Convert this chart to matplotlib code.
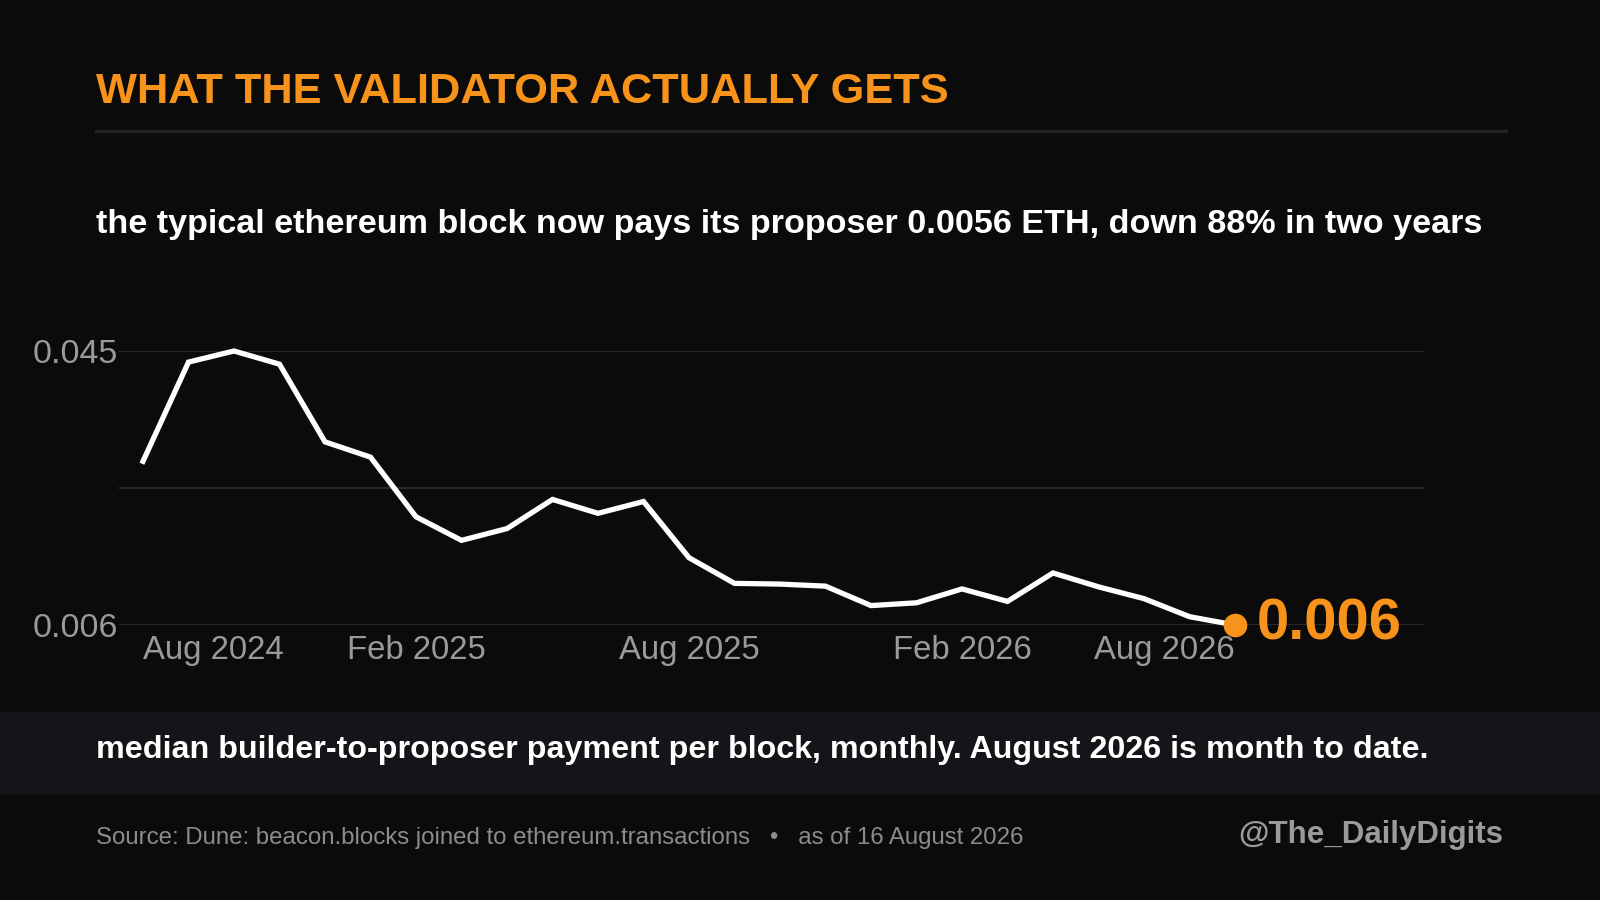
import matplotlib
matplotlib.use("Agg")
import matplotlib.pyplot as plt
from matplotlib.patches import Rectangle
from matplotlib.lines import Line2D

# monthly median builder-to-proposer payment (ETH), Aug 2024 .. Aug 2026
months = ["Aug 2024", "Sep 2024", "Oct 2024", "Nov 2024", "Dec 2024",
          "Jan 2025", "Feb 2025", "Mar 2025", "Apr 2025", "May 2025",
          "Jun 2025", "Jul 2025", "Aug 2025", "Sep 2025", "Oct 2025",
          "Nov 2025", "Dec 2025", "Jan 2026", "Feb 2026", "Mar 2026",
          "Apr 2026", "May 2026", "Jun 2026", "Jul 2026", "Aug 2026"]
payment = [0.0292, 0.0435, 0.0451, 0.0432, 0.0320,
           0.0298, 0.0212, 0.0178, 0.0195, 0.0237,
           0.0217, 0.0234, 0.0153, 0.0116, 0.0115,
           0.0112, 0.0084, 0.0088, 0.0108, 0.0090,
           0.0131, 0.0111, 0.0094, 0.0068, 0.0056]
tick_months = ["Aug 2024", "Feb 2025", "Aug 2025", "Feb 2026", "Aug 2026"]

BG = "#0b0b0b"
BAND = "#151519"
ORANGE = "#f7931a"
GRID = "#2a2a2e"
GREY = "#9a9a9a"

W, H = 1600, 900
plt.rcParams["font.family"] = ["Liberation Sans", "DejaVu Sans"]

fig = plt.figure(figsize=(16, 9), dpi=100, facecolor=BG)


def fy(y):
    # pixel from top -> figure fraction
    return 1 - y / H


# title + rule
fig.text(96 / W, fy(92), "WHAT THE VALIDATOR ACTUALLY GETS", color=ORANGE,
         fontsize=31.2, fontweight="bold", va="center", ha="left")
fig.add_artist(Line2D([96 / W, 1506 / W], [fy(131), fy(131)], color="#222226",
                      lw=2.4, transform=fig.transFigure))

fig.text(96 / W, fy(225), "the typical ethereum block now pays its proposer 0.0056 ETH, down 88% in two years",
         color="white", fontsize=24.6, fontweight="bold", va="center", ha="left")

# chart area
ymin, ymax = min(payment), max(payment)
y_top, y_bot = 351, 625
x_left, x_right = 119, 1424
x0, x_last = 143, 1235
step = (x_last - x0) / (len(months) - 1)

ax = fig.add_axes([x_left / W, fy(y_bot), (x_right - x_left) / W, (y_bot - y_top) / H])
ax.set_facecolor(BG)
ax.set_ylim(ymin, ymax)
ax.set_xlim(-(x0 - x_left) / step, (len(months) - 1) + (x_right - x_last) / step)

xs = list(range(len(months)))
ax.plot(xs, payment, color="white", lw=3.8, solid_joinstyle="miter", clip_on=False, zorder=3)
ax.plot(xs[-1], payment[-1], "o", color=ORANGE, ms=16, clip_on=False, zorder=4)
ax.annotate(f"{payment[-1]:.3f}", (xs[-1], payment[-1]), xytext=(16, 0),
            textcoords="offset points", color=ORANGE, fontsize=41.8, fontweight="bold",
            va="center", ha="left", annotation_clip=False)

for v in [ymin, (ymin + ymax) / 2, ymax]:
    ax.axhline(v, color=GRID, lw=1.5, zorder=1)

ax.set_yticks([ymin, ymax])
ax.set_yticklabels([f"{ymin:.3f}", f"{ymax:.3f}"])
ax.tick_params(axis="y", length=0, pad=1, labelsize=24.5, labelcolor=GREY)

tick_idx = [months.index(m) for m in tick_months]
ax.set_xticks(tick_idx)
ax.set_xticklabels(tick_months)
ax.tick_params(axis="x", length=0, pad=7.5, labelsize=23.7, labelcolor=GREY)
lbls = ax.get_xticklabels()
lbls[0].set_ha("left")
lbls[-1].set_ha("right")

for s in ax.spines.values():
    s.set_visible(False)

# caption band
fig.add_artist(Rectangle((0, fy(793)), 1, (793 - 712) / H, color=BAND,
                         transform=fig.transFigure, zorder=0))
fig.text(96 / W, fy(750), "median builder-to-proposer payment per block, monthly. August 2026 is month to date.",
         color="white", fontsize=23.2, fontweight="bold", va="center", ha="left")

# footer
fig.text(96 / W, fy(838),
         "Source: Dune: beacon.blocks joined to ethereum.transactions   \u2022   as of 16 August 2026",
         color="#8c8c8c", fontsize=17.3, va="center", ha="left")
fig.text(1503 / W, fy(835), "@The_DailyDigits", color=GREY, fontsize=22.5,
         fontweight="bold", va="center", ha="right")

fig.savefig("out.png", dpi=100, facecolor=BG)
